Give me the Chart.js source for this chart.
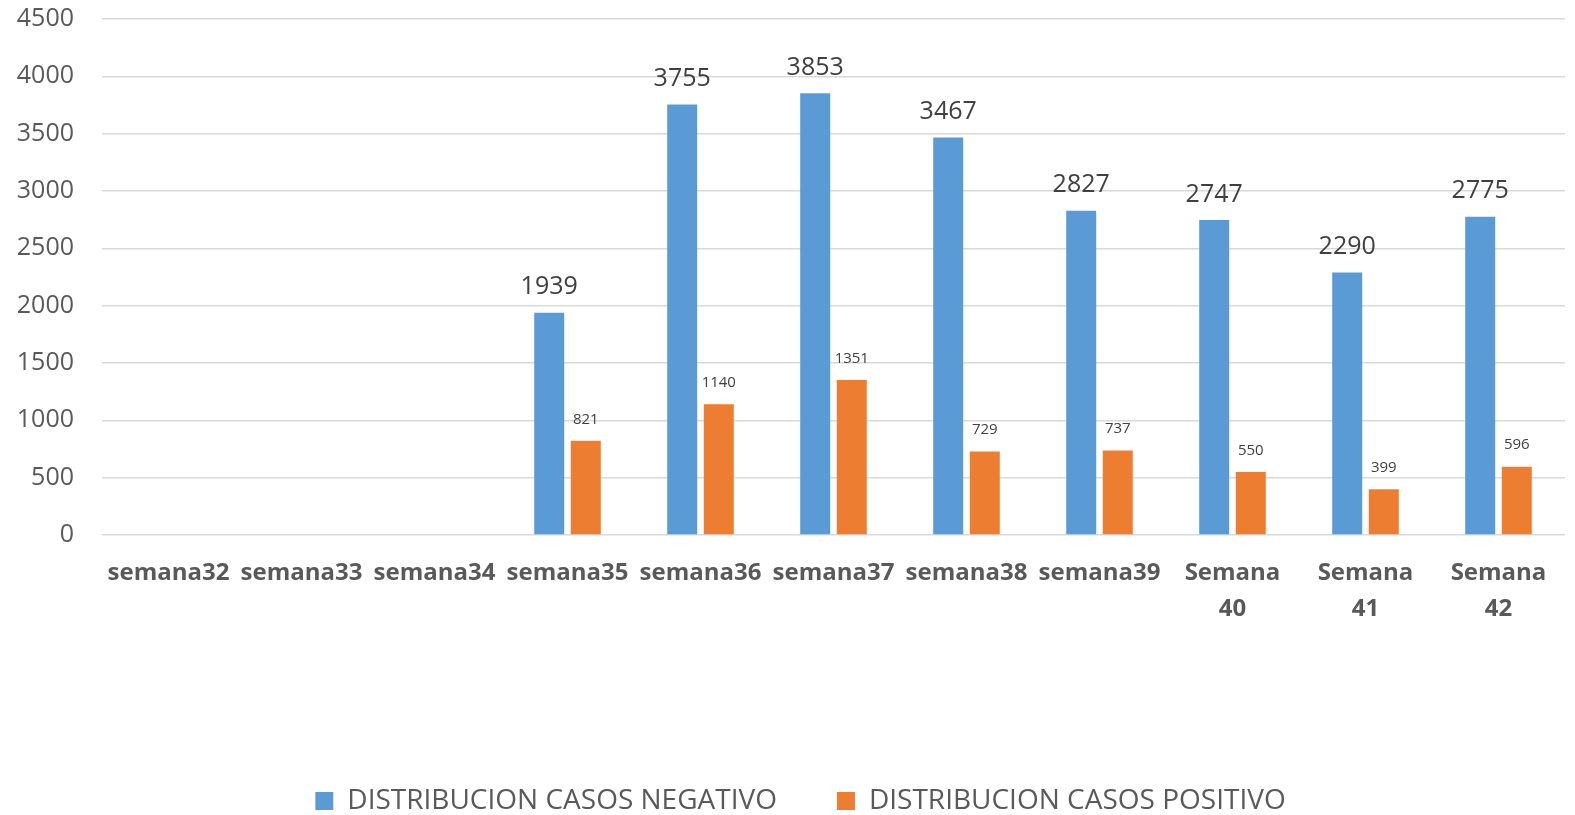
<!DOCTYPE html>
<html>
<head>
<meta charset="utf-8">
<script src="https://cdn.jsdelivr.net/npm/chart.js@4"></script>
<style>
  html, body { margin: 0; padding: 0; background: #fff; overflow: hidden; }
  #wrap { width: 1575px; height: 825px; position: relative; }
</style>
</head>
<body>
<div id="wrap"><canvas id="chart"></canvas></div>
<script>
const weeks = ['semana32', 'semana33', 'semana34', 'semana35', 'semana36', 'semana37', 'semana38', 'semana39', ['Semana', '40'], ['Semana', '41'], ['Semana', '42']];
const negativos = [null, null, null, 1939, 3755, 3853, 3467, 2827, 2747, 2290, 2775];
const positivos = [null, null, null, 821, 1140, 1351, 729, 737, 550, 399, 596];
const yTicks = [0, 500, 1000, 1500, 2000, 2500, 3000, 3500, 4000, 4500];

const FONT = "'Open Sans', 'Noto Sans', sans-serif";

// value labels above each bar
const barLabels = {
  id: 'barLabels',
  afterDatasetsDraw(chart) {
    const ctx = chart.ctx;
    chart.data.datasets.forEach(function (ds, i) {
      const meta = chart.getDatasetMeta(i);
      const big = i === 0;
      ctx.save();
      ctx.fillStyle = '#404040';
      ctx.font = (big ? '25px ' : '15px ') + FONT;
      ctx.textAlign = 'center';
      ctx.textBaseline = 'bottom';
      meta.data.forEach(function (bar, j) {
        const v = ds.data[j];
        if (v == null) return;
        ctx.fillText(String(v), bar.x, bar.y - (big ? 13 : 14));
      });
      ctx.restore();
    });
  }
};

// nudge the legend a little to the right, like the original
const legendShift = {
  id: 'legendShift',
  afterLayout(chart) {
    chart.legend.left += 18;
    chart.legend.right += 18;
  }
};

new Chart(document.getElementById('chart'), {
  type: 'bar',
  data: {
    labels: weeks,
    datasets: [{
      label: 'DISTRIBUCION CASOS NEGATIVO',
      data: negativos,
      backgroundColor: '#5B9BD5',
      categoryPercentage: 0.55,
      barPercentage: 0.82
    }, {
      label: 'DISTRIBUCION CASOS POSITIVO',
      data: positivos,
      backgroundColor: '#ED7D31',
      categoryPercentage: 0.55,
      barPercentage: 0.82
    }]
  },
  options: {
    responsive: true,
    maintainAspectRatio: false,
    animation: false,
    layout: { padding: { top: 19, right: 10, left: 0, bottom: 0 } },
    plugins: {
      tooltip: { enabled: false },
      legend: {
        position: 'bottom',
        labels: {
          color: '#595959',
          font: { family: FONT, size: 28 },
          boxWidth: 18,
          boxHeight: 18,
          padding: 60
        }
      }
    },
    scales: {
      x: {
        grid: { display: false },
        border: { display: false },
        ticks: {
          color: '#595959',
          font: { family: FONT, size: 24, weight: 'bold', lineHeight: 1.5 },
          maxRotation: 0,
          autoSkip: false,
          padding: 12
        },
        afterFit(scale) { scale.height = 192; }
      },
      y: {
        min: 0,
        max: 4500,
        afterBuildTicks(scale) { scale.ticks = yTicks.map(v => ({ value: v })); },
        grid: { color: '#D9D9D9', lineWidth: 1.5, drawTicks: false },
        border: { display: false },
        ticks: {
          color: '#595959',
          font: { family: FONT, size: 25 },
          padding: 28,
          callback: (v) => String(v)
        },
        afterFit(scale) {
          scale.width = 102;
          scale.paddingTop = 0;
          scale.paddingBottom = 0;
        }
      }
    }
  },
  plugins: [barLabels, legendShift]
});
</script>
</body>
</html>
